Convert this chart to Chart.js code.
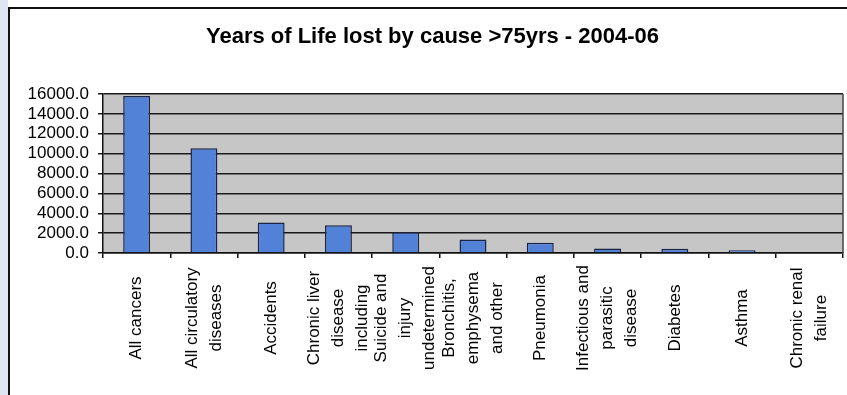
<!DOCTYPE html>
<html lang="en">
  <head>
    <meta charset="UTF-8" />
    <meta name="viewport" content="width=device-width, initial-scale=1.0" />
    <title>Years of Life lost by cause &gt;75yrs - 2004-06</title>
    <script src="https://cdn.jsdelivr.net/npm/chart.js"></script>
    <style>
      html,
      body {
        margin: 0;
        padding: 0;
        background-color: #ffffff;
        overflow: hidden;
      }
      .strip {
        position: absolute;
        left: 0;
        top: 0;
        width: 8px;
        height: 395px;
        background-color: #dde6f2;
      }
      .frame {
        position: absolute;
        left: 8px;
        top: 7px;
        width: 900px;
        height: 500px;
        border-left: 2px solid #111;
        border-top: 2px solid #111;
        background-color: #ffffff;
      }
      .chart-box {
        position: absolute;
        left: 0;
        top: 0;
        width: 847px;
        height: 395px;
      }
    </style>
  </head>
  <body>
    <div class="strip"></div>
    <div class="frame"></div>
    <div class="chart-box">
      <canvas id="yllChart"></canvas>
    </div>

    <script>
      // categories (one entry per bar, split into label lines)
      const categories = [
        ["All cancers"],
        ["All circulatory", "diseases"],
        ["Accidents"],
        ["Chronic liver", "disease", "including"],
        ["Suicide and", "injury", "undetermined"],
        ["Bronchitis,", "emphysema", "and other"],
        ["Pneumonia"],
        ["Infectious and", "parasitic", "disease"],
        ["Diabetes"],
        ["Asthma"],
        ["Chronic renal", "failure"],
      ];

      // years of life lost
      const yllValues = [15800, 10550, 3080, 2780, 2100, 1350, 1020, 450, 420, 280, 0];

      // y axis ticks
      const yTicks = [0, 2000, 4000, 6000, 8000, 10000, 12000, 14000, 16000];

      const labelFont = '17px "Liberation Sans", Arial, sans-serif';

      // grey plot area with a border on the right
      const plotBackground = {
        id: "plotBackground",
        beforeDraw(chart) {
          const { ctx, chartArea: a } = chart;
          ctx.save();
          ctx.fillStyle = "#c6c6c6";
          ctx.fillRect(a.left, a.top, a.right - a.left, a.bottom - a.top);
          ctx.restore();
        },
        afterDraw(chart) {
          const { ctx, chartArea: a } = chart;
          ctx.save();
          ctx.strokeStyle = "#444";
          ctx.lineWidth = 1.5;
          ctx.beginPath();
          ctx.moveTo(a.right, a.top);
          ctx.lineTo(a.right, a.bottom);
          ctx.stroke();
          ctx.restore();
        },
      };

      // rotated, centred category labels placed on the x scale
      const categoryLabels = {
        id: "categoryLabels",
        afterDraw(chart) {
          const { ctx } = chart;
          const xScale = chart.scales.x;
          const lineGap = 24;
          const midY = 318;
          ctx.save();
          ctx.font = labelFont;
          ctx.fillStyle = "#000";
          ctx.textAlign = "center";
          ctx.textBaseline = "middle";
          categories.forEach((lines, i) => {
            const cx = xScale.getPixelForValue(i);
            lines.forEach((line, j) => {
              const lx = cx + (j - (lines.length - 1) / 2) * lineGap;
              ctx.save();
              ctx.translate(lx, midY);
              ctx.rotate(-Math.PI / 2);
              ctx.fillText(line, 0, 0);
              ctx.restore();
            });
          });
          ctx.restore();
        },
      };

      const config = {
        type: "bar",
        data: {
          labels: categories,
          datasets: [
            {
              data: yllValues,
              backgroundColor: "#5282d8",
              borderColor: "#1c2444",
              borderWidth: 1.5,
              barPercentage: 0.4,
              categoryPercentage: 1.0,
            },
          ],
        },
        options: {
          responsive: true,
          maintainAspectRatio: false,
          animation: false,
          layout: {
            padding: { left: 22, right: 4, top: 0, bottom: 0 },
          },
          plugins: {
            legend: { display: false },
            tooltip: { enabled: false },
            title: {
              display: true,
              text: "Years of Life lost by cause >75yrs - 2004-06",
              color: "#000",
              font: {
                family: '"Liberation Sans", Arial, sans-serif',
                size: 22,
                weight: "bold",
              },
              padding: { top: 24, bottom: 43.6 },
            },
          },
          scales: {
            x: {
              afterFit(scale) {
                scale.height = 142;
              },
              grid: {
                display: true,
                drawOnChartArea: false,
                drawTicks: true,
                tickLength: 5,
                color: "#111",
                lineWidth: 1.5,
              },
              border: { display: true, color: "#111", width: 1.5 },
              ticks: { display: false },
            },
            y: {
              min: 0,
              max: 16000,
              afterFit(scale) {
                scale.width = 81;
              },
              afterBuildTicks(scale) {
                scale.ticks = yTicks.map((v) => ({ value: v }));
              },
              grid: {
                color: "#1a1a1a",
                lineWidth: 1.5,
                tickLength: 5,
              },
              border: { display: true, color: "#111", width: 1.5 },
              ticks: {
                autoSkip: false,
                padding: 9,
                color: "#000",
                font: {
                  family: '"Liberation Sans", Arial, sans-serif',
                  size: 17,
                },
                callback: (v) => Number(v).toFixed(1),
              },
            },
          },
        },
        plugins: [plotBackground, categoryLabels],
      };

      new Chart(document.getElementById("yllChart"), config);
    </script>
  </body>
</html>
